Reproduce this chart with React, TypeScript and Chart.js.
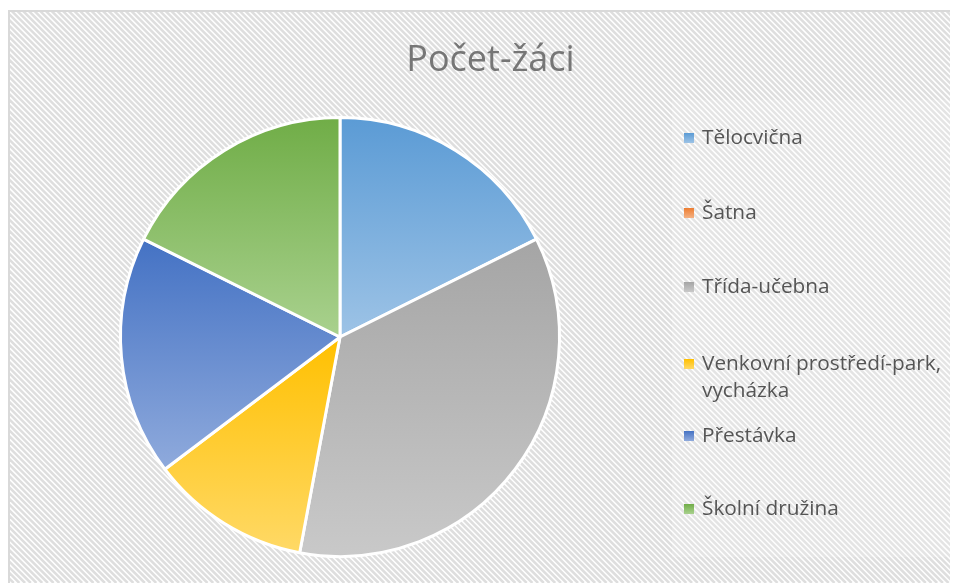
import React, { useEffect, useRef } from "react";
import { Chart, registerables } from "chart.js";

Chart.register(...registerables);

const chartTitle = "Počet-žáci";
const categories = [
  "Tělocvična",
  "Šatna",
  "Třída-učebna",
  "Venkovní prostředí-park, vycházka",
  "Přestávka",
  "Školní družina",
];
const legendLines = [
  ["Tělocvična"],
  ["Šatna"],
  ["Třída-učebna"],
  ["Venkovní prostředí-park,", "vycházka"],
  ["Přestávka"],
  ["Školní družina"],
];
const values = [3, 0, 6, 2, 3, 3];
const topColors = ["#5B9BD5", "#ED7D31", "#A5A5A5", "#FFC000", "#4472C4", "#70AD47"];
const bottomColors = ["#9DC3E6", "#F4B183", "#C9C9C9", "#FFD966", "#8FAADC", "#A9D18E"];

const FONT = "'Open Sans', 'Noto Sans', sans-serif";

function arcBBox(el: any) {
  const { x, y, startAngle, endAngle, outerRadius } = el.getProps(
    ["x", "y", "startAngle", "endAngle", "outerRadius"],
    true
  );
  const pts: [number, number][] = [[x, y]];
  pts.push([x + Math.cos(startAngle) * outerRadius, y + Math.sin(startAngle) * outerRadius]);
  pts.push([x + Math.cos(endAngle) * outerRadius, y + Math.sin(endAngle) * outerRadius]);
  for (let k = -4; k <= 8; k++) {
    const a = (k * Math.PI) / 2;
    if (a > startAngle && a < endAngle) {
      pts.push([x + Math.cos(a) * outerRadius, y + Math.sin(a) * outerRadius]);
    }
  }
  let minY = Infinity, maxY = -Infinity;
  for (const p of pts) {
    minY = Math.min(minY, p[1]);
    maxY = Math.max(maxY, p[1]);
  }
  return { minY, maxY };
}

const backgroundPlugin = {
  id: "bgHatch",
  beforeDraw(chart: any) {
    const ctx = chart.ctx as CanvasRenderingContext2D;
    const W = chart.width, H = chart.height;
    ctx.save();
    ctx.fillStyle = "#ffffff";
    ctx.fillRect(0, 0, W, H);
    ctx.beginPath();
    ctx.rect(2, 4, W - 2, H - 4);
    ctx.clip();
    ctx.strokeStyle = "#dedede";
    ctx.lineWidth = 2.5;
    for (let k = -H; k < W + H; k += 5.7) {
      ctx.beginPath();
      ctx.moveTo(k, 0);
      ctx.lineTo(k + H, H);
      ctx.stroke();
    }
    // slightly lighter legend area
    ctx.fillStyle = "rgba(255,255,255,0.2)";
    ctx.fillRect(664, 92, W - 664, 457);
    ctx.restore();
    ctx.save();
    ctx.fillStyle = "#d9d9d9";
    ctx.fillRect(0, 2, 2, H - 2);
    ctx.fillRect(0, 2, W, 2);
    ctx.restore();
  },
};

const gradientPlugin = {
  id: "sliceGradient",
  beforeDatasetsDraw(chart: any) {
    const ctx = chart.ctx as CanvasRenderingContext2D;
    const meta = chart.getDatasetMeta(0);
    meta.data.forEach((el: any, i: number) => {
      const { minY, maxY } = arcBBox(el);
      if (!isFinite(minY) || maxY - minY < 1) return;
      const g = ctx.createLinearGradient(0, minY, 0, maxY);
      g.addColorStop(0, topColors[i]);
      g.addColorStop(1, bottomColors[i]);
      el.options.backgroundColor = g;
    });
  },
};

const overlayPlugin = {
  id: "titleLegend",
  afterDraw(chart: any) {
    const ctx = chart.ctx as CanvasRenderingContext2D;
    ctx.save();
    ctx.font = `36px ${FONT}`;
    ctx.fillStyle = "#767676";
    ctx.textAlign = "center";
    ctx.textBaseline = "alphabetic";
    ctx.fillText(chartTitle, 482.5, 63);
    const baselines = [136, 211, 285, 362, 434, 507];
    ctx.font = `20.8px ${FONT}`;
    ctx.textAlign = "left";
    legendLines.forEach((lines, i) => {
      const b = baselines[i];
      const g = ctx.createLinearGradient(0, b - 11, 0, b - 1);
      g.addColorStop(0, topColors[i]);
      g.addColorStop(1, bottomColors[i]);
      ctx.fillStyle = g;
      ctx.fillRect(676, b - 11, 10, 10);
      ctx.fillStyle = "#555555";
      lines.forEach((t, j) => ctx.fillText(t, 694, b + j * 27));
    });
    ctx.restore();
  },
};

export default function App() {
  const ref = useRef<HTMLCanvasElement | null>(null);
  useEffect(() => {
    if (!ref.current) return;
    const chart = new Chart(ref.current, {
      type: "pie",
      data: {
        labels: categories,
        datasets: [
          {
            data: values,
            backgroundColor: topColors,
            borderColor: "#ffffff",
            borderWidth: 3,
          },
        ],
      },
      options: {
        responsive: false,
        animation: false,
        events: [],
        layout: { padding: { left: 111, top: 108, right: 397, bottom: 25 } },
        plugins: {
          legend: { display: false },
          title: { display: false },
          tooltip: { enabled: false },
        },
      },
      plugins: [backgroundPlugin, gradientPlugin, overlayPlugin],
    });
    return () => chart.destroy();
  }, []);
  return (
    <div style={{ width: 950, height: 575 }}>
      <canvas ref={ref} width={950} height={575} style={{ display: "block", width: 950, height: 575 }} />
    </div>
  );
}
